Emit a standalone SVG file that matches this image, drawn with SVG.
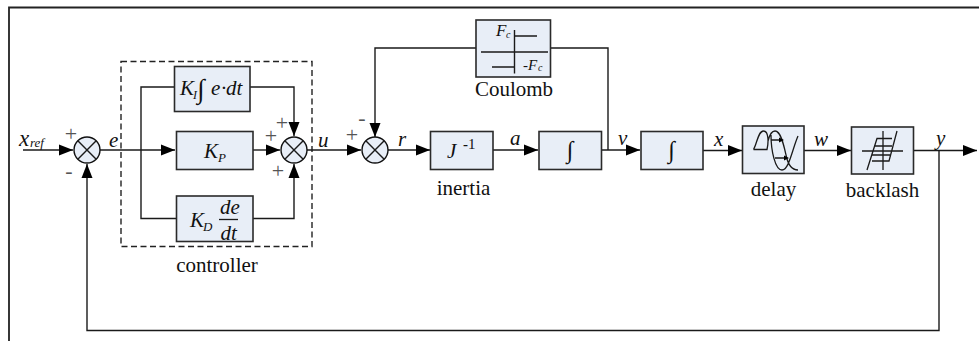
<svg xmlns="http://www.w3.org/2000/svg" width="979" height="341" viewBox="0 0 979 341">
<style>
.box{fill:#e8eef7;stroke:#2a2a2a;stroke-width:1.6}
.sum{fill:#e8eef7;stroke:#111;stroke-width:1.4}
.ln{fill:none;stroke:#1a1a1a;stroke-width:1.4}
.thin{fill:none;stroke:#1a1a1a;stroke-width:1.3}
.ar{fill:#000;stroke:none}
text{font-family:"Liberation Serif",serif;fill:#111}
.lb{font-size:21px;text-anchor:middle}
.m{font-size:21px;font-style:italic}
.s{font-size:13px;font-style:italic}
.g{font-size:22px;fill:#555;text-anchor:middle}
</style>
<defs>
<marker id="ah" markerUnits="userSpaceOnUse" markerWidth="15" markerHeight="12" refX="14" refY="6" orient="auto"><path class="ar" d="M0,0.500L14,6L0,11.500z"/></marker>
</defs>
<rect width="979" height="341" fill="#fff"/>
<path id="frame" d="M979,7.5H9V341" fill="none" stroke="#222" stroke-width="1.8"/>
<rect id="controller" x="121" y="61.500" width="191" height="185" fill="none" stroke="#222" stroke-width="1.4" stroke-dasharray="6 3.500"/>
<g id="connectors">
<path class="ln" marker-end="url(#ah)" d="M23,150H73"/>
<path class="ln" marker-end="url(#ah)" d="M100,150H175"/>
<path class="ln" d="M174,87H141V218.500H176"/>
<path class="ln" marker-end="url(#ah)" d="M250,87H294V136"/>
<path class="ln" marker-end="url(#ah)" d="M253,150H280"/>
<path class="ln" marker-end="url(#ah)" d="M253,218.500H294V164"/>
<path class="ln" marker-end="url(#ah)" d="M307,150H361"/>
<path class="ln" marker-end="url(#ah)" d="M388,150H430"/>
<path class="ln" marker-end="url(#ah)" d="M493,150H538"/>
<path class="ln" marker-end="url(#ah)" d="M601.500,150H640"/>
<path class="ln" d="M608,150V48H550"/>
<path class="ln" marker-end="url(#ah)" d="M476,48H375V137"/>
<path class="ln" marker-end="url(#ah)" d="M703,150.500H742"/>
<path class="ln" marker-end="url(#ah)" d="M804,150.500H851"/>
<path class="ln" marker-end="url(#ah)" d="M913.500,150.500H977"/>
<path class="ln" marker-end="url(#ah)" d="M939,150.500V330.500H87V164"/>
</g>
<g id="sum1"><circle class="sum" cx="87" cy="150" r="13"/><path class="ln" d="M77.800,140.800L96.200,159.200M96.200,140.800L77.800,159.200"/></g>
<g id="sum2"><circle class="sum" cx="294" cy="150" r="13"/><path class="ln" d="M284.800,140.800L303.200,159.200M303.200,140.800L284.800,159.200"/></g>
<g id="sum3"><circle class="sum" cx="375" cy="150" r="13"/><path class="ln" d="M365.800,140.800L384.200,159.200M384.200,140.800L365.800,159.200"/></g>
<g id="ki"><rect class="box" x="174.500" y="66.500" width="75.500" height="45"/>
<text class="m" x="180" y="95">K</text><text class="s" x="193" y="99" style="font-size:12px">I</text><text x="197" y="98" style="font-size:27px;font-style:italic">∫</text><text class="m" x="211" y="95">e</text><text class="m" x="221" y="95">·</text><text class="m" x="226" y="95">dt</text></g>
<g id="kp"><rect class="box" x="176.500" y="131.500" width="76.500" height="38"/>
<text class="m" x="204" y="158">K</text><text class="s" x="218" y="162">P</text></g>
<g id="kd"><rect class="box" x="176.500" y="196" width="76.500" height="45.500"/>
<text class="m" x="190" y="227">K</text><text class="s" x="203" y="231">D</text><text class="m" x="220" y="214">de</text><path class="thin" d="M219,219.500H238"/><text class="m" x="220.500" y="240">dt</text></g>
<g id="coulomb"><rect class="box" x="476" y="20" width="74.500" height="57"/>
<path class="thin" d="M481,52H548M514.500,30V73.500M514.500,36H537M492,67H514.500" style="stroke-width:1.4"/>
<text class="m" x="496" y="36" style="font-size:17px">F</text><text class="s" x="506" y="38" style="font-size:10px">c</text>
<text class="m" x="523" y="70" style="font-size:15px">-F</text><text class="s" x="538" y="71" style="font-size:10px">c</text>
<text class="lb" x="514" y="96">Coulomb</text></g>
<g id="inertia"><rect class="box" x="430.500" y="131.500" width="62.500" height="38"/>
<text class="m" x="447" y="158">J</text><text x="463" y="149" style="font-size:15px"><tspan font-weight="bold">-</tspan>1</text>
<text class="lb" x="463.500" y="195">inertia</text></g>
<g id="int1"><rect class="box" x="539" y="131.500" width="62.500" height="38"/><text x="570" y="158" text-anchor="middle" style="font-size:24px;font-style:italic">∫</text></g>
<g id="int2"><rect class="box" x="641" y="131.500" width="62" height="38"/><text x="671.500" y="158" text-anchor="middle" style="font-size:24px;font-style:italic">∫</text></g>
<g id="delay"><rect class="box" x="742.500" y="126" width="61.500" height="47.500"/>
<path class="thin" d="M753.500,149.500H767C768.500,143 769,131 763.500,131C758,131 757,144 753.500,149.500M768,141C770,133 772,131 775,131C781,131 784,146 786,155C788,165 792,170 798,170M771,135C771,150 775,170 782,170C789,170 792,150 798,136"/>
<path class="thin" d="M771,140H780M775,158H785"/>
<path class="ar" d="M784,140l-5,-2.500v5zM789,158l-5,-2.500v5z"/>
<text class="lb" x="773.500" y="196">delay</text></g>
<g id="backlash"><rect class="box" x="851.500" y="127" width="62" height="47"/>
<path class="thin" d="M862,151H903M883,131V170M867,170L877,138.500H892M872,161H889L897,131M874,146H892M872,155H890"/>
<text class="lb" x="882.500" y="197">backlash</text></g>
<g id="labels">
<text class="m" x="19" y="146" style="font-size:23px">x</text><text class="s" x="30" y="147">ref</text>
<text class="g" x="71" y="141">+</text><text class="g" x="69" y="178">-</text>
<text class="m" x="109" y="147">e</text>
<text class="g" x="282" y="130">+</text><text class="g" x="271" y="143">+</text><text class="g" x="278" y="178">+</text>
<text class="m" x="318" y="147">u</text>
<text class="g" x="352" y="142">+</text><text class="g" x="362" y="125">-</text>
<text class="m" x="398" y="146">r</text><text class="m" x="510" y="145">a</text>
<text class="m" x="618" y="145">v</text><text class="m" x="714" y="146">x</text>
<text class="m" x="814" y="146">w</text><text class="m" x="936" y="145">y</text>
</g>
<text class="lb" x="217" y="272">controller</text>
</svg>
